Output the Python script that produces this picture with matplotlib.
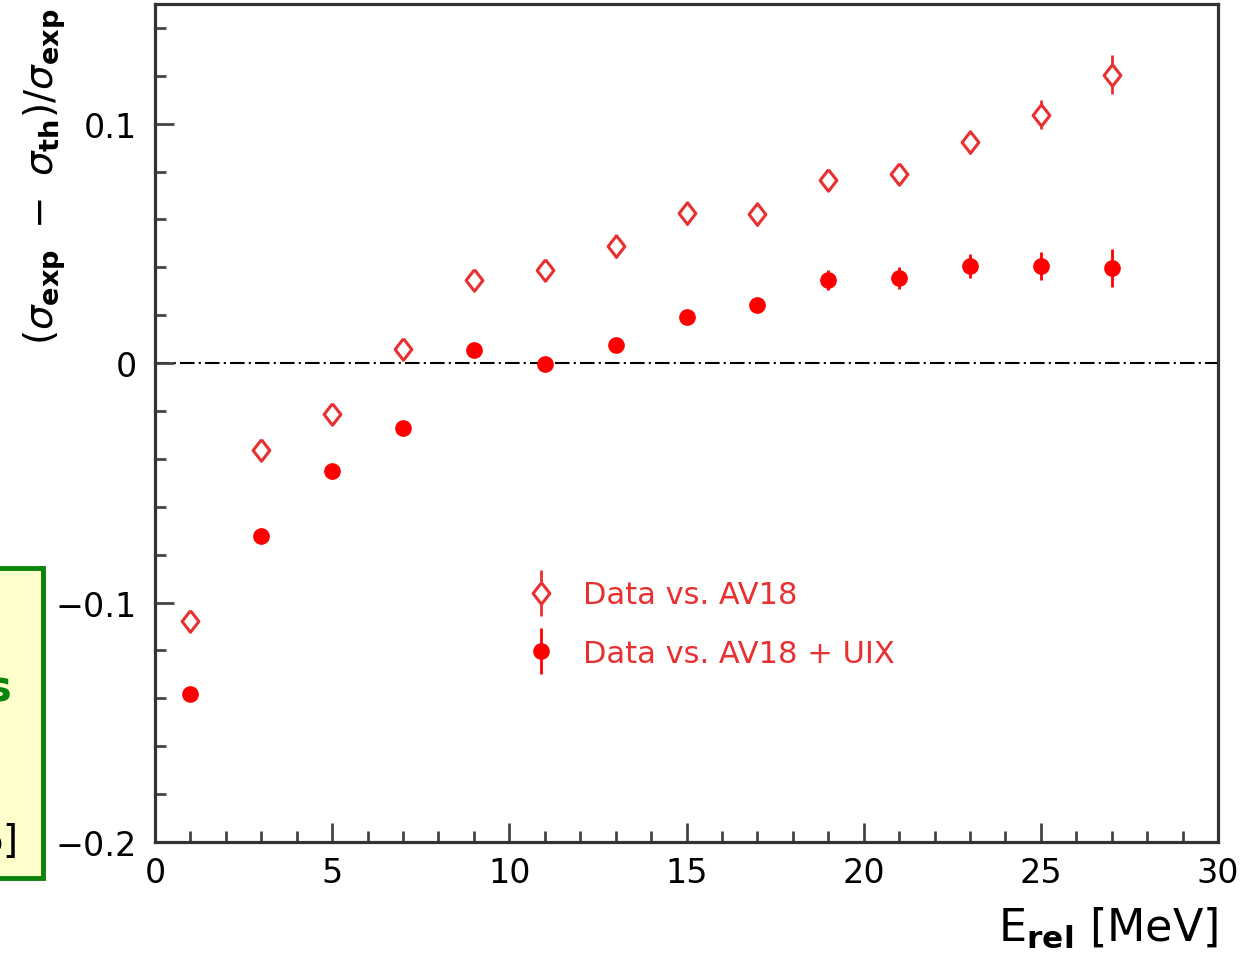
import matplotlib
matplotlib.use("Agg")
import matplotlib.pyplot as plt
from matplotlib.patches import Rectangle
from matplotlib.legend_handler import HandlerErrorbar
from matplotlib.ticker import MultipleLocator

plt.rcParams["font.family"] = ["DejaVu Sans"]
plt.rcParams["mathtext.fontset"] = "dejavusans"

# E_rel bins [MeV]
e_rel = [1, 3, 5, 7, 9, 11, 13, 15, 17, 19, 21, 23, 25, 27]

# (sigma_exp - sigma_th) / sigma_exp
diff_av18 = [-0.1075, -0.0364, -0.0213, 0.0059, 0.0347, 0.0389, 0.0490,
             0.0628, 0.0623, 0.0766, 0.0790, 0.0925, 0.1038, 0.1205]
err_av18 = [0.003, 0.003, 0.003, 0.003, 0.004, 0.004, 0.005,
            0.005, 0.005, 0.004, 0.004, 0.005, 0.006, 0.008]

diff_uix = [-0.1380, -0.0720, -0.0452, -0.0272, 0.0054, -0.0004, 0.0075,
            0.0192, 0.0243, 0.0347, 0.0356, 0.0406, 0.0406, 0.0397]
err_uix = [0.002, 0.002, 0.003, 0.003, 0.003, 0.003, 0.003,
           0.003, 0.003, 0.004, 0.0045, 0.005, 0.006, 0.008]

labels = ["Data vs. AV18", "Data vs. AV18 + UIX"]

W, H = 1242, 954
fig = plt.figure(figsize=(W / 100, H / 100), dpi=100)
ax = fig.add_axes([155 / W, 1 - 843 / H, (1218 - 155) / W, (843 - 5) / H])

red = "#ff0000"
ored = "#e83030"
diamond = [(0, 1), (0.78, 0), (0, -1), (-0.78, 0), (0, 1)]

ax.axhline(0, color="black", lw=1.5, dashes=(7, 2, 1, 2), zorder=1)

ax.errorbar(e_rel, diff_av18, yerr=err_av18, fmt="none", ecolor=ored,
            elinewidth=2, capsize=0, zorder=2)
ax.plot(e_rel, diff_av18, ls="none", marker=diamond, ms=15.5, mfc="white",
        mec=ored, mew=2.2, zorder=3)
ax.errorbar(e_rel, diff_uix, yerr=err_uix, fmt="none", ecolor=red,
            elinewidth=2, capsize=0, zorder=2)
ax.plot(e_rel, diff_uix, ls="none", marker="o", ms=11, color=red, zorder=3)

# legend handles
h1 = ax.errorbar([], [], yerr=[], ls="none", marker=diamond, ms=15.5, mfc="white",
                 mec=ored, mew=2.2, ecolor=ored, elinewidth=2)
h2 = ax.errorbar([], [], yerr=[], ls="none", marker="o", ms=11, color=red,
                 ecolor=red, elinewidth=2)
leg = ax.legend([h1, h2], labels, loc="center left", frameon=False,
                bbox_to_anchor=(526 / W, 1 - 625 / H),
                bbox_transform=fig.transFigure, fontsize=22,
                handlelength=1.0, handletextpad=0.85, labelspacing=0.95,
                borderpad=0, borderaxespad=0,
                handler_map={type(h1): HandlerErrorbar(yerr_size=0.75)})
for t in leg.get_texts():
    t.set_color(ored)

ax.set_xlim(0, 30)
ax.set_ylim(-0.2, 0.15)
ax.xaxis.set_major_locator(MultipleLocator(5))
ax.xaxis.set_minor_locator(MultipleLocator(1))
ax.yaxis.set_major_locator(MultipleLocator(0.1))
ax.yaxis.set_minor_locator(MultipleLocator(0.02))
ax.xaxis.set_major_formatter(lambda v, p: f"{v:g}")
ax.yaxis.set_major_formatter(lambda v, p: f"{v:g}".replace("-", "\u2212") if abs(v) > 1e-9 else "0")

ax.tick_params(which="both", direction="in", top=False, right=False,
               width=2, color="#444444", labelsize=24)
ax.tick_params(which="major", length=14)
ax.tick_params(which="minor", length=8)
ax.tick_params(axis="y", pad=13)
ax.tick_params(axis="x", pad=10)
for sp in ax.spines.values():
    sp.set_linewidth(2.3)
    sp.set_color("#333333")

fig.text(1218 / W, 1 - 928 / H, r"E$_{\mathbf{rel}}$ [MeV]", ha="right",
         va="center", fontsize=32)
fig.text(45 / W, 1 - 8 / H,
         r"$\left(\sigma_{\mathbf{exp}}\ -\ \sigma_{\mathbf{th}}\right)/\sigma_{\mathbf{exp}}$",
         rotation=90, ha="center", va="top", fontsize=28)

# clipped slide overlay box at the left edge
box = Rectangle((-20 / W, 1 - 879 / H), 63 / W, 310 / H, transform=fig.transFigure,
                facecolor="#ffffcc", edgecolor="#0a840a", lw=3.5, zorder=5)
fig.patches.append(box)
fig.text(12 / W, 1 - 690 / H, "s", ha="right", va="center", fontsize=30,
         fontweight="bold", color="#0a840a", zorder=6)
fig.text(18 / W, 1 - 842 / H, "6]", ha="right", va="center", fontsize=28,
         color="black", zorder=6)

fig.savefig("out.png", dpi=100)
